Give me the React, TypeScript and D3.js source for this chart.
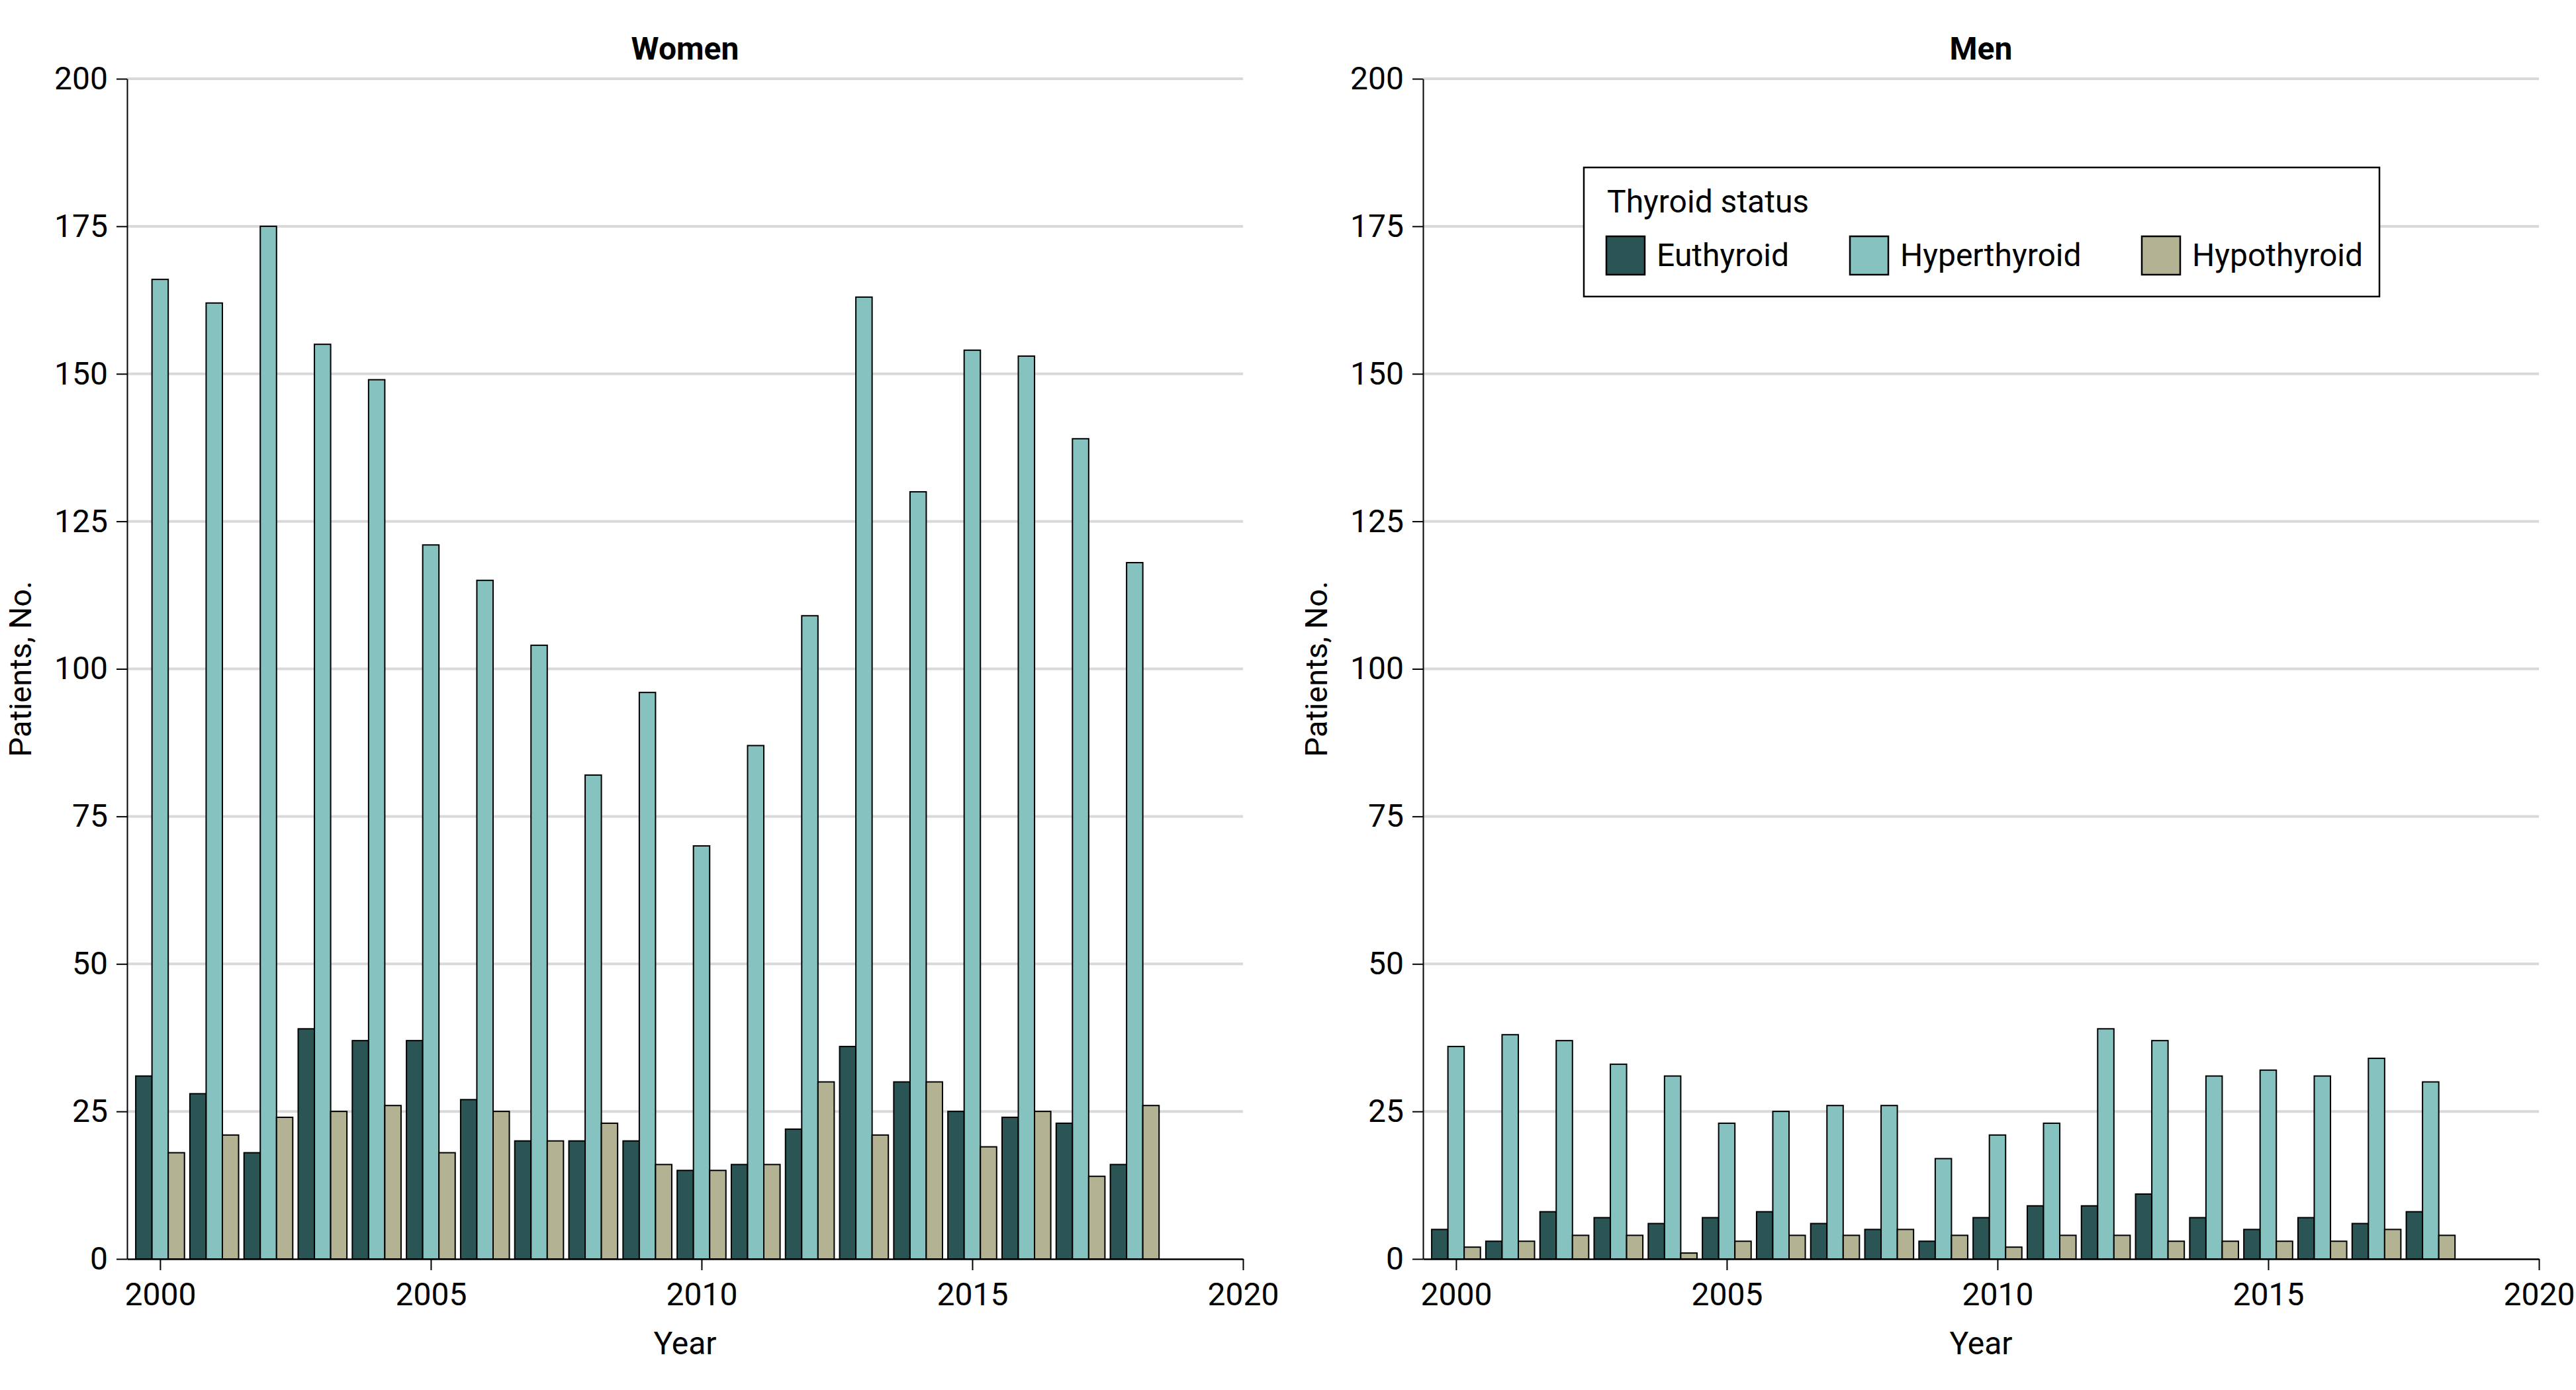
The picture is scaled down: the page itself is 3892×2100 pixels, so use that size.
import React, { useEffect, useRef } from 'react';
import * as d3 from 'd3';

const years = [2000, 2001, 2002, 2003, 2004, 2005, 2006, 2007, 2008, 2009, 2010, 2011, 2012, 2013, 2014, 2015, 2016, 2017, 2018];
const statuses = ['Euthyroid', 'Hyperthyroid', 'Hypothyroid'];
const statusColors = ['#2b5454', '#85c2c0', '#b3b394'];

const womenEuthyroid = [31, 28, 18, 39, 37, 37, 27, 20, 20, 20, 15, 16, 22, 36, 30, 25, 24, 23, 16];
const womenHyperthyroid = [166, 162, 175, 155, 149, 121, 115, 104, 82, 96, 70, 87, 109, 163, 130, 154, 153, 139, 118];
const womenHypothyroid = [18, 21, 24, 25, 26, 18, 25, 20, 23, 16, 15, 16, 30, 21, 30, 19, 25, 14, 26];

const menEuthyroid = [5, 3, 8, 7, 6, 7, 8, 6, 5, 3, 7, 9, 9, 11, 7, 5, 7, 6, 8];
const menHyperthyroid = [36, 38, 37, 33, 31, 23, 25, 26, 26, 17, 21, 23, 39, 37, 31, 32, 31, 34, 30];
const menHypothyroid = [2, 3, 4, 4, 1, 3, 4, 4, 5, 4, 2, 4, 4, 3, 3, 3, 3, 5, 4];

const yTicks = [0, 25, 50, 75, 100, 125, 150, 175, 200];
const xTicks = [2000, 2005, 2010, 2015, 2020];

const FONT = "Roboto, 'Open Sans', sans-serif";

const App = () => {
  const svgRef = useRef<SVGSVGElement>(null);

  useEffect(() => {
    const svg = d3.select(svgRef.current);
    svg.selectAll('*').remove();

    const top = 119;
    const bottom = 1902;

    const panels = [
      { title: 'Women', x0: 192, x1: 1878, series: [womenEuthyroid, womenHyperthyroid, womenHypothyroid] },
      { title: 'Men', x0: 2150, x1: 3836, series: [menEuthyroid, menHyperthyroid, menHypothyroid] },
    ];

    const y = d3.scaleLinear().domain([0, 200]).range([bottom, top]);
    // bars of a year take 0.9 year, centred on the year
    const inner = d3.scaleBand().domain(statuses).range([-0.45, 0.45]).paddingInner(0);

    panels.forEach((p) => {
      const g = svg.append('g');
      const x = d3.scaleLinear().domain([1999.39, 2020]).range([p.x0, p.x1]);

      // gridlines
      g.selectAll('.grid')
        .data(yTicks.filter((t) => t > 0))
        .join('line')
        .attr('class', 'grid')
        .attr('x1', p.x0)
        .attr('x2', p.x1)
        .attr('y1', (d) => y(d))
        .attr('y2', (d) => y(d))
        .attr('stroke', '#d9d9d9')
        .attr('stroke-width', 4);

      // bars
      statuses.forEach((s, si) => {
        g.selectAll(`.bar-${si}`)
          .data(years.map((yr, i) => ({ yr, v: p.series[si][i] })))
          .join('rect')
          .attr('class', `bar-${si}`)
          .attr('x', (d) => x(d.yr + (inner(s) as number)))
          .attr('width', (d) => x(d.yr + (inner(s) as number) + inner.bandwidth()) - x(d.yr + (inner(s) as number)))
          .attr('y', (d) => y(d.v))
          .attr('height', (d) => y(0) - y(d.v))
          .attr('fill', statusColors[si])
          .attr('stroke', '#000')
          .attr('stroke-width', 2);
      });

      // axes
      const yAxis = d3.axisLeft(y).tickValues(yTicks).tickSize(16).tickPadding(13).tickSizeOuter(0);
      const ya = g.append('g').attr('transform', `translate(${p.x0},0)`).call(yAxis);
      ya.attr('font-family', FONT).attr('font-size', 48);
      ya.select('.domain').attr('stroke-width', 2);
      ya.selectAll('.tick line').attr('stroke-width', 2);
      ya.selectAll('.tick text').attr('fill', '#000');

      const xAxis = d3.axisBottom(x).tickValues(xTicks).tickFormat(d3.format('d')).tickSize(17).tickPadding(19).tickSizeOuter(0);
      const xa = g.append('g').attr('transform', `translate(0,${bottom})`).call(xAxis);
      xa.attr('font-family', FONT).attr('font-size', 48);
      xa.select('.domain').attr('stroke-width', 2.5);
      xa.selectAll('.tick line').attr('stroke-width', 2);
      xa.selectAll('.tick text').attr('fill', '#000');

      // titles
      g.append('text')
        .attr('x', (p.x0 + p.x1) / 2)
        .attr('y', 90)
        .attr('text-anchor', 'middle')
        .attr('font-family', FONT)
        .attr('font-weight', 700)
        .attr('font-size', 48)
        .text(p.title);

      g.append('text')
        .attr('x', (p.x0 + p.x1) / 2)
        .attr('y', 2046)
        .attr('text-anchor', 'middle')
        .attr('font-family', FONT)
        .attr('font-size', 48)
        .text('Year');

      g.append('text')
        .attr('transform', `translate(${p.x0 - 145},${(top + bottom) / 2}) rotate(-90)`)
        .attr('text-anchor', 'middle')
        .attr('font-family', FONT)
        .attr('font-size', 47)
        .text('Patients, No.');
    });

    // legend
    const lg = svg.append('g').attr('transform', 'translate(2393,253)');
    lg.append('rect')
      .attr('width', 1202)
      .attr('height', 195)
      .attr('fill', '#fff')
      .attr('stroke', '#000')
      .attr('stroke-width', 2.5);
    lg.append('text')
      .attr('x', 35)
      .attr('y', 68)
      .attr('font-family', FONT)
      .attr('font-size', 48)
      .text('Thyroid status');
    const itemX = [34, 402, 843];
    const item = lg.selectAll('.item')
      .data(statuses)
      .join('g')
      .attr('class', 'item')
      .attr('transform', (d, i) => `translate(${itemX[i]},104)`);
    item.append('rect')
      .attr('width', 58)
      .attr('height', 58)
      .attr('fill', (d, i) => statusColors[i])
      .attr('stroke', '#000')
      .attr('stroke-width', 2.5);
    item.append('text')
      .attr('x', 76)
      .attr('y', 45)
      .attr('font-family', FONT)
      .attr('font-size', 48)
      .text((d) => d);
  }, []);

  return (
    <svg
      ref={svgRef}
      width={3892}
      height={2100}
      style={{ position: 'absolute', left: 0, top: 0, background: '#fff' }}
    />
  );
};

export default App;
